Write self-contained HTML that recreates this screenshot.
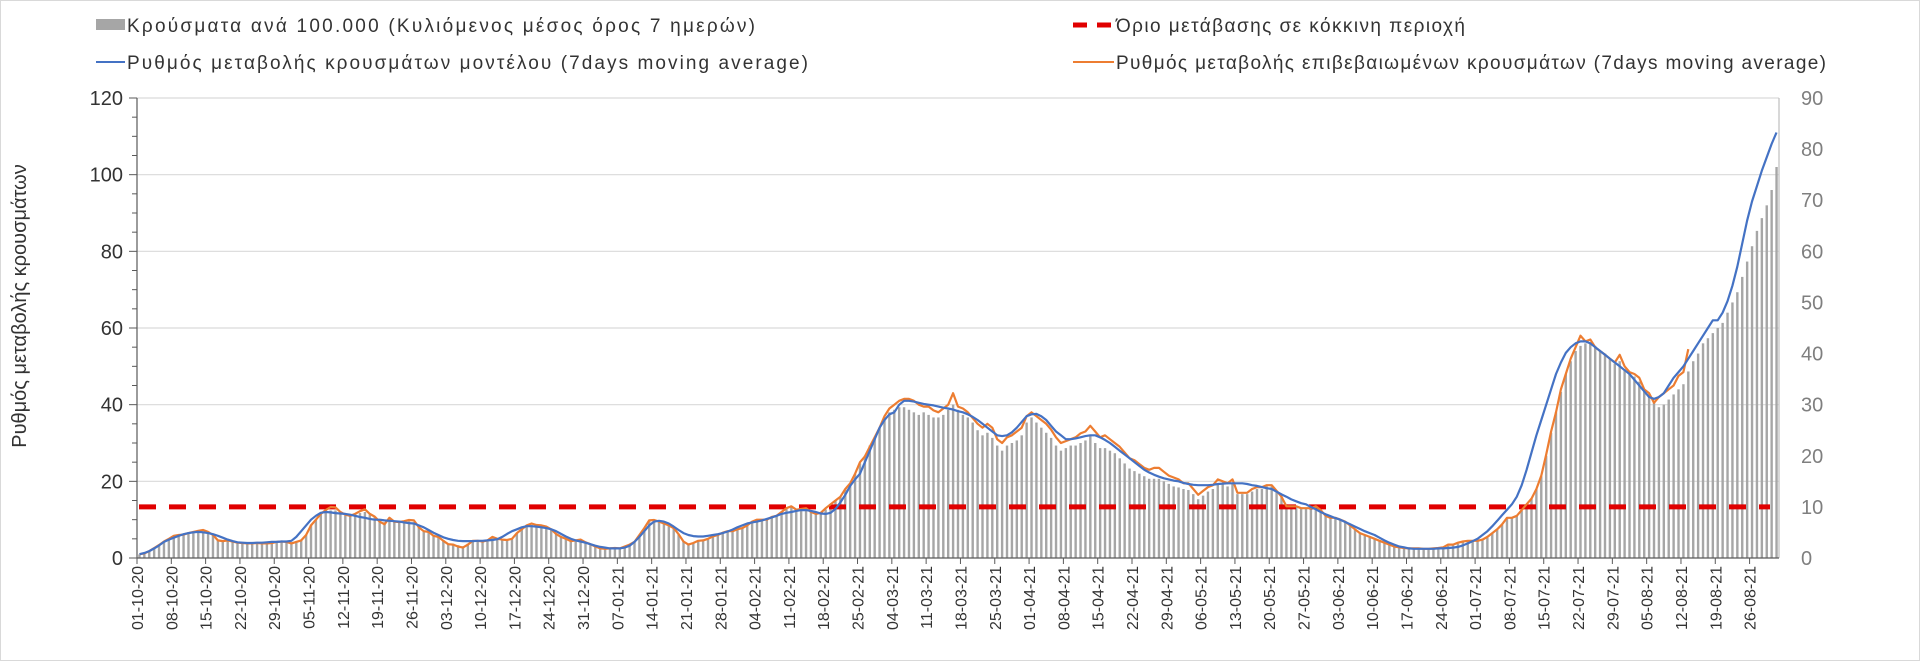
<!DOCTYPE html>
<html><head><meta charset="utf-8"><style>
html,body{margin:0;padding:0;background:#fff;}
svg{display:block;font-family:"Liberation Sans",sans-serif;}
</style></head><body>
<svg id="chart" width="1920" height="661" viewBox="0 0 1920 661" xmlns="http://www.w3.org/2000/svg">
<rect x="0.5" y="0.5" width="1919" height="660" fill="#fff" stroke="#d9d9d9"/>
<g id="grid"></g>
<g id="bars"></g>
<g id="thr"></g>
<g id="lines"></g>
<g id="axes"></g>
<text transform="translate(26,306) rotate(-90)" text-anchor="middle" font-size="20" fill="#333">Ρυθμός μεταβολής κρουσμάτων</text>
<g font-size="19" fill="#333">
 <g><rect x="96" y="19" width="29" height="11" fill="#a6a6a6"/><text x="127" y="32" textLength="628">Κρούσματα ανά 100.000 (Κυλιόμενος μέσος όρος 7 ημερών)</text></g>
 <g><line x1="96" y1="62" x2="125" y2="62" stroke="#4472c4" stroke-width="2"/><text x="127" y="69" textLength="681">Ρυθμός μεταβολής κρουσμάτων μοντέλου (7days moving average)</text></g>
 <g><line x1="1073" y1="25" x2="1114" y2="25" stroke="#e00000" stroke-width="5" stroke-dasharray="14,10"/><text x="1116" y="32" textLength="349">Όριο μετάβασης σε κόκκινη περιοχή</text></g>
 <g><line x1="1073" y1="62" x2="1114" y2="62" stroke="#ed7d31" stroke-width="2"/><text x="1116" y="69" textLength="710">Ρυθμός μεταβολής επιβεβαιωμένων κρουσμάτων (7days moving average)</text></g>
</g>
</svg>
<script>
const startDate = [2020, 10, 1];
const leftTicks = [0,20,40,60,80,100,120];
const rightTicks = [0,10,20,30,40,50,60,70,80,90];
const threshold = [10];
const modelRate = [
1,1.3,1.8,2.5,3.3,4.2,4.8, 5.3,5.8,6.2,6.5,6.7,6.8,6.7, 6.5,6.2,5.8,5.3,4.8,4.4,4.1, 4,3.9,3.9,4,4,4.1,4.2,
4.2,4.3,4.3,4.5,5.5,7,8.5, 10,11,11.8,12,11.9,11.7,11.6, 11.5,11.3,11,10.7,10.5,10.2,10, 10,9.8,9.7,9.6,9.5,9.3,9.1,
9,8.5,8,7.3,6.6,6,5.4, 5,4.7,4.5,4.4,4.4,4.4,4.5, 4.5,4.6,4.7,4.9,5.5,6.3,7, 7.5,8,8.3,8.3,8.2,8,7.8,
7.5,7,6.3,5.6,5,4.6,4.3, 4,3.6,3.2,2.9,2.7,2.5,2.5, 2.5,2.7,3.2,4.2,5.5,7,8.5, 9.5,9.7,9.5,9,8.2,7.3,6.5,
6,5.7,5.6,5.6,5.8,6,6.2, 6.5,6.9,7.4,8,8.5,9,9.3, 9.5,9.8,10.2,10.6,11,11.5,11.8, 12,12.3,12.5,12.5,12.3,12,11.6,
11.5,11.8,12.8,14.5,16.5,18.8,20.5, 22,25,28,31,34,36,37.5, 38,40,41,41,40.8,40.5,40.2, 40,39.8,39.5,39.2,39,38.7,38.3,
38,37.5,36.8,36,35,34,33, 32,31.8,32,32.8,34,35.5,37, 37.5,37.6,37,36,34.5,33,32, 31,31,31.2,31.5,31.8,32,32,
31.5,30.8,30,29,28,27,26, 25,24,23,22.3,21.7,21.2,20.8, 20.5,20.2,20,19.6,19.3,19.1,19, 19,19,19.1,19.3,19.4,19.5,19.5,
19.5,19.5,19.3,19,18.8,18.5,18.2, 18,17.3,16.6,16,15.3,14.8,14.3, 14,13.3,12.7,12,11.4,10.9,10.4, 10,9.4,8.8,8.2,7.6,7,6.5,
6,5.3,4.6,4,3.5,3,2.8, 2.5,2.4,2.4,2.4,2.4,2.4,2.5, 2.5,2.6,2.7,2.9,3.3,3.8,4.4, 5,6,7,8.3,9.7,11.2,12.6,
14,16,19,23,27.5,32,36, 40,44,48,51,53.5,55,56, 56.5,56.5,56,55,54,53,52, 51,50,49,48,46.5,45,43.5,
42,41.5,42,43,45,47,48.5, 50,52,54,56,58,60,62, 62,64,67,71,76,82,88, 93,97,101,104.5,108,111];
const confirmedRate = [
1,1.2,1.8,2.6,3.4,4.3,5, 5.8,6,6.1,6.5,6.8,7.1,7.3, 6.8,6,4.6,4.4,4.6,4.3,4, 3.9,3.8,3.8,3.9,3.8,3.8,3.9,
4.2,4.3,4.2,3.8,4.2,4.6,6, 8.5,10,11.5,12.5,13.3,13.2,12, 11.3,11,11.5,12.2,12.7,11.5,10.8, 9.5,8.8,10.5,9.5,9.4,9.6,9.9,
9.8,8,7,6.8,5.8,5.5,4.5, 3.6,3.5,3,2.7,3.5,4.5,4.5, 4.3,4.6,5.5,5,4.8,4.7,5, 6.5,7.5,8.5,9,8.6,8.5,8.2,
7.5,6.3,5.5,5,4.4,4.6,4.8, 4.1,3.6,3,2.5,2.4,2.5,2.6, 2.5,3,3.5,4.2,6,7.8,9.8, 9.9,9.5,9,8.5,7.8,6.2,4.3,
3.5,3.9,4.5,4.6,5,5.6,6, 6.6,7,7,7.5,7.8,8.5,9.5, 10,10,10,10.7,11,12,13, 13.5,12.6,12.8,13,12,11.5,11.8,
13,14,15,16,18,19.5,22, 25,26.5,29,31.5,34,37,39, 40,41,41.5,41.5,41,40,39.5, 39.5,38.5,38,39,40,43,39.5,
39,38,36.5,35,34,35,34, 31,30,31.5,32,33,34,37, 38,37,36,35,33.5,31.5,30, 30.5,31,31.5,32.5,33,34.5,33,
31.5,32,31,30,29,27.5,26, 25.5,24.5,23.5,23,23.5,23.5,22.5, 21.5,21,20.5,19.5,19.5,18,16.5, 17.5,18.5,19,20.5,20,19.5,20.5,
17,17,17,18,18.5,18.5,19, 19,17.5,16,13.5,13.5,13.5,13, 13,13,13.5,12.5,11,10.5,10.5, 10,9.5,8.5,7.5,6.5,6,5.5,
5,4.5,4,3.5,3,2.8,2.6, 2.5,2.5,2.5,2.4,2.4,2.5,2.6, 2.8,3.5,3.5,4,4.3,4.5,4.5, 4.5,4.8,5.5,6.5,7.5,8.8,10.5,
10.5,11,12.5,14,15.5,18,21.5, 27,33,38,44,48,52,55, 58,56.5,57,55,54,53,52, 51,53,50,48.5,48,47,44,
43,40.5,42,43,44,45,47.5, 48.5,54.5];
const casesPer100k = [
0.7,1,1.3,1.8,2.5,3,3.6, 4,4.3,4.6,4.8,5,5.1,5.1, 5,4.8,3.6,3.5,3.5,3.3,3.1, 3,3,2.9,2.9,2.9,2.9,3,
3.1,3.2,3.2,3.1,3.3,3.6,4.5, 6.5,7.5,8.5,9.3,9.3,9.3,9, 8.3,8.2,8.5,8.8,9,8.5,8, 7.3,7,7.5,7.2,7.1,7.1,7.2,
7,6,5.3,5,4.5,4.1,3.5, 2.8,2.8,2.5,2.3,2.8,3.3,3.4, 3.3,3.4,3.9,3.7,3.6,3.6,3.8, 4.8,5.6,6.2,6.5,6.4,6.3,6.2,
5.6,4.8,4.2,3.8,3.4,3.4,3.5, 3.1,2.7,2.3,2,1.9,1.9,2, 1.9,2.2,2.6,3.2,4.5,5.8,7.2, 7.3,7.1,6.7,6.3,5.8,4.7,3.3,
2.7,2.9,3.4,3.5,3.8,4.2,4.5, 4.9,5.2,5.3,5.6,5.9,6.4,7, 7.4,7.5,7.5,8,8.3,9,9.6, 10,9.5,9.6,9.7,9,8.6,8.8,
9.5,10.5,11.3,12,13.5,14.6,16.5, 18.5,20,22,23.5,25.5,27.5,28.5, 29,29.5,29.5,29,28.5,28,28.5, 28,27.5,27.5,28,29,30,29,
28,27.5,26.5,25,24,24.5,23.5, 22,21,22,22.5,23,24,26.5, 27.5,26.5,25.5,24.5,23.5,22,21, 21.5,22,22,22.5,23,24,22.5,
21.5,21.5,21,20.5,19.5,18.5,17.5, 17,16.5,16,15.5,15.5,15.5,15, 14.5,14,13.8,13.5,13.3,12.5,11.5, 12.2,13,13.5,14.5,14.5,14,14.5,
12.5,12.5,12.5,13,13.5,13.5,14, 14,13,12,10.5,10.2,10,9.8, 9.7,9.6,9.8,9.2,8.3,8,7.8, 7.4,7,6.4,5.7,5,4.5,4.1,
3.7,3.4,3,2.6,2.3,2.1,1.9, 1.8,1.8,1.8,1.8,1.8,1.8,1.9, 2,2.4,2.5,2.8,3.1,3.3,3.3, 3.3,3.5,4,4.8,5.5,6.5,7.8,
8,8.2,9.2,10.5,11.6,13.5,16, 20,24.5,28.5,32.5,36,38.5,40.5, 41.5,42,42.2,41.5,40.5,40,39, 38,38.5,37,36,35.5,34.5,33,
32,30.5,29.5,30,31,32,33, 34,36.5,38.5,40,42,43,44, 45,46,48,50,52,55,58, 61,64,66.5,69,72,76.5];

const NS='http://www.w3.org/2000/svg';
const X0=137, X1=1779, Y0=558, YT=98;
const N=casesPer100k.length;
const bw=(X1-X0)/N;
function xPos(i){return X0+(i+0.5)*bw;}
function yL(v){return Y0-(v/120)*(Y0-YT);}
function yR(v){return Y0-(v/90)*(Y0-YT);}
function mk(tag,attrs,parent){const e=document.createElementNS(NS,tag);for(const k in attrs)e.setAttribute(k,attrs[k]);parent.appendChild(e);return e;}
const grid=document.getElementById('grid'),bars=document.getElementById('bars'),thr=document.getElementById('thr'),lines=document.getElementById('lines'),axes=document.getElementById('axes');

leftTicks.forEach(t=>{
 if(t>0){const g=mk('line',{x1:X0,x2:X1,y1:yL(t),y2:yL(t),stroke:'#d9d9d9','stroke-width':1.2},grid);
 
 }
 const tl=mk('text',{x:X0-14,y:yL(t)+7,'text-anchor':'end','font-size':20,fill:'#333'},axes);
 tl.textContent=t;
 
 
});
for(let v=0;v<=120;v+=5){mk('line',{x1:X0-(v%20===0?8:5),x2:X0,y1:yL(v),y2:yL(v),stroke:'#595959','stroke-width':1},axes);}
rightTicks.forEach(t=>{
 const tl=mk('text',{x:X1+22,y:yR(t)+7,'font-size':20,fill:'#7f7f7f'},axes);
 tl.textContent=t;
 
 
});
mk('line',{x1:X1,x2:X1,y1:YT,y2:Y0,stroke:'#bfbfbf','stroke-width':1.2},axes);
mk('line',{x1:X0,x2:X0,y1:YT,y2:Y0,stroke:'#595959','stroke-width':1.2},axes);
mk('line',{x1:X0,x2:X1,y1:Y0,y2:Y0,stroke:'#595959','stroke-width':1.2},axes);

casesPer100k.forEach((v,i)=>{
 const b=mk('rect',{x:xPos(i)-1.2,y:yR(v),width:2.4,height:Y0-yR(v),fill:'#a6a6a6'},bars);
 
 
});
const tline=mk('line',{x1:X0+2,x2:1770,y1:yR(threshold[0]),y2:yR(threshold[0]),stroke:'#e00000','stroke-width':5,'stroke-dasharray':'17,13'},thr);



function path(arr,color,w,name){
 const d=arr.map((v,i)=>(i?'L':'M')+xPos(i).toFixed(1)+' '+yL(v).toFixed(1)).join(' ');
 const p=mk('path',{d:d,fill:'none',stroke:color,'stroke-width':w,'stroke-linejoin':'round'},lines);
 
 
}
path(confirmedRate,'#ed7d31',2.2,'confirmed-rate-line');
path(modelRate,'#4472c4',2.2,'model-rate-line');

const sd=new Date(Date.UTC(startDate[0],startDate[1]-1,startDate[2]));
for(let i=0;i<N;i+=7){
 const x=X0+i*bw;
 mk('line',{x1:x,x2:x,y1:Y0,y2:Y0+6,stroke:'#595959','stroke-width':1},axes);
 const d=new Date(sd.getTime()+i*86400000);
 const s=String(d.getUTCDate()).padStart(2,'0')+'-'+String(d.getUTCMonth()+1).padStart(2,'0')+'-'+String(d.getUTCFullYear()%100).padStart(2,'0');
 const tl=mk('text',{transform:'translate('+(x+6)+','+(Y0+8)+') rotate(-90)','text-anchor':'end','font-size':16,fill:'#333'},axes);
 tl.textContent=s;
 
 
}
</script>
</body></html>
